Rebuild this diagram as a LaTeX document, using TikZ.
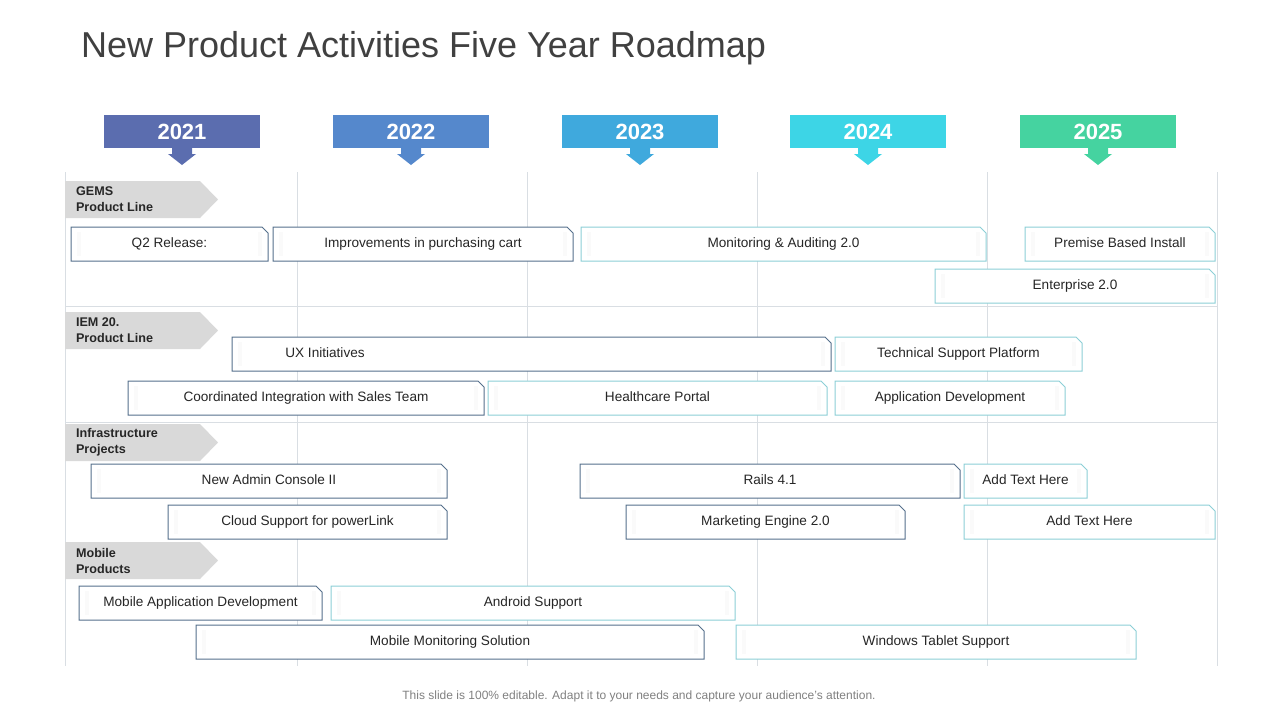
\documentclass[tikz,border=0pt]{standalone}
\usepackage{fontspec}
\setmainfont{Liberation Sans}
\usetikzlibrary{positioning}

\definecolor{ydark}{HTML}{5B6DAF}
\definecolor{yblue}{HTML}{5588CC}
\definecolor{ysky}{HTML}{3FA9DD}
\definecolor{ycyan}{HTML}{3DD5E6}
\definecolor{ygreen}{HTML}{45D3A0}
\definecolor{bdark}{HTML}{55708C}
\definecolor{bteal}{HTML}{8CCFD6}
\definecolor{gridc}{HTML}{D9DEE3}
\definecolor{tagc}{HTML}{D9D9D9}

\tikzset{
  tasktext/.style={font=\fontsize{6.8}{8}\selectfont, text=black!85, text height=5pt, text depth=1.5pt, inner sep=0pt},
  tagtext/.style={font=\fontsize{6.3}{8}\selectfont\bfseries, text=black!85, align=left, anchor=west},
  yeartext/.style={font=\fontsize{11}{12}\selectfont\bfseries, text=white}
}

% task box: x1, x2, top y, label, border colour, name
\newcommand{\taskbox}[6]{%
  \draw[#5, fill=white, line width=0.5pt] (#1,#3) -- (#2-6,#3) -- (#2,#3+6) -- (#2,#3+34) -- (#1,#3+34) -- cycle;
  \fill[black!2] (#1+6,#3+5) rectangle (#1+10,#3+29);
  \fill[black!2] (#2-10,#3+5) rectangle (#2-6,#3+29);
  \node[tasktext] (#6) at ({(#1+#2)/2},#3+17) {#4};}

% year banner: x1, colour, year
\newcommand{\yearbox}[3]{%
  \fill[#2] (#1,115) rectangle (#1+156,148);
  \fill[#2] (#1+68,148) -- (#1+68,154) -- (#1+64,154) -- (#1+78,165) -- (#1+92,154) -- (#1+88,154) -- (#1+88,148) -- cycle;
  \node[yeartext] (y#3) at (#1+78,131.5) {#3};}

% category tag: top y, lines
\newcommand{\cattag}[3]{%
  \fill[tagc] (65,#1) -- (200,#1) -- (218,#1+18.5) -- (200,#1+37) -- (65,#1+37) -- cycle;
  \node[tagtext] (#3) at (69,#1+18.5) {#2};}

\begin{document}
\begin{tikzpicture}[x=0.5pt, y=-0.5pt]
\useasboundingbox (0,0) rectangle (1280,720);

\node[anchor=west, font=\fontsize{18}{20}\selectfont, text=black!75] (title) at (74,48) {New Product Activities Five Year Roadmap};

% grid
\foreach \gx in {65,297,527,757,987,1217}
  \draw[gridc, line width=0.5pt] (\gx,172) -- (\gx,666);
\foreach \gy in {306,422}
  \draw[gridc, line width=0.5pt] (65,\gy) -- (1217,\gy);

\yearbox{104}{ydark}{2021}
\yearbox{333}{yblue}{2022}
\yearbox{562}{ysky}{2023}
\yearbox{790}{ycyan}{2024}
\yearbox{1020}{ygreen}{2025}

\cattag{181}{GEMS\\Product Line}{gems}
\cattag{312}{IEM 20.\\Product Line}{iem}
\cattag{424}{Infrastructure\\Projects}{infra}
\cattag{542}{Mobile\\Products}{mobile}

% GEMS
\taskbox{71}{268}{227}{Q2 Release:}{bdark}{q2}
\taskbox{273}{573}{227}{Improvements in purchasing cart}{bdark}{cart}
\taskbox{581}{986}{227}{Monitoring \& Auditing 2.0}{bteal}{audit}
\taskbox{1025}{1215}{227}{Premise Based Install}{bteal}{premise}
\taskbox{935}{1215}{269}{Enterprise 2.0}{bteal}{enterprise}

% IEM
\taskbox{232}{831}{337}{}{bdark}{ux}
\node[tasktext] (uxt) at (325,354) {UX Initiatives};
\taskbox{835}{1082}{337}{Technical Support Platform}{bteal}{support}
\taskbox{128}{484}{381}{Coordinated Integration with Sales Team}{bdark}{sales}
\taskbox{488}{827}{381}{Healthcare Portal}{bteal}{health}
\taskbox{835}{1065}{381}{Application Development}{bteal}{appdev}

% Infrastructure
\taskbox{91}{447}{464}{New Admin Console II}{bdark}{admin}
\taskbox{580}{960}{464}{Rails 4.1}{bdark}{rails}
\taskbox{964}{1087}{464}{Add Text Here}{bteal}{addone}
\taskbox{168}{447}{505}{Cloud Support for powerLink}{bdark}{cloud}
\taskbox{626}{905}{505}{Marketing Engine 2.0}{bdark}{marketing}
\taskbox{964}{1215}{505}{Add Text Here}{bteal}{addtwo}

% Mobile
\taskbox{79}{322}{586}{Mobile Application Development}{bdark}{mobapp}
\taskbox{331}{735}{586}{Android Support}{bteal}{android}
\taskbox{196}{704}{625}{Mobile Monitoring Solution}{bdark}{monitor}
\taskbox{736}{1136}{625}{Windows Tablet Support}{bteal}{windows}

\node[font=\fontsize{6}{7}\selectfont, text=black!50] (foot) at (639,696) {This slide is 100\% editable. Adapt it to your needs and capture your audience's attention.};
\end{tikzpicture}
\end{document}
